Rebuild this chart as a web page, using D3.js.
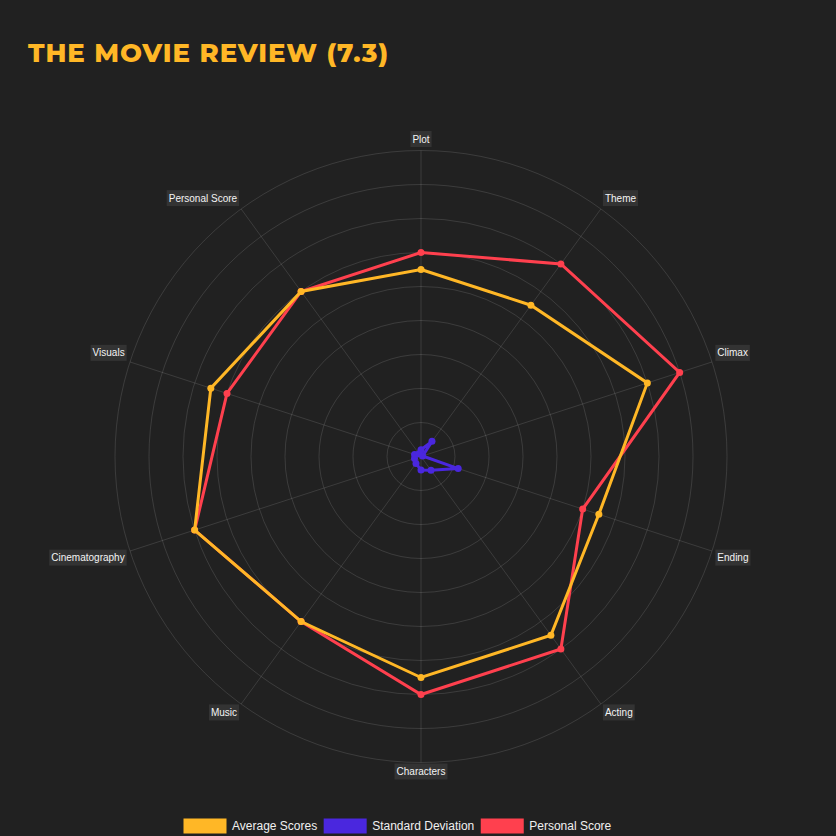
<!DOCTYPE html>
<html>
<head>
<meta charset="utf-8">
<script src="https://cdn.jsdelivr.net/npm/d3@7"></script>
<style>
  html, body { margin: 0; padding: 0; background: #212121; }
  svg { display: block; }
</style>
</head>
<body>
<svg id="chart" width="836" height="836"></svg>
<script>
const categories = ["Plot", "Theme", "Climax", "Ending", "Acting", "Characters", "Music", "Cinematography", "Visuals", "Personal Score"];
const averageScores = [5.5, 5.5, 7, 5.5, 6.5, 6.5, 6, 7, 6.5, 6];
const standardDeviation = [0.2, 0.55, 0.05, 1.15, 0.5, 0.4, 0.25, 0.2, 0.2, 0.1];
const personalScore = [6, 7, 8, 5, 7, 7, 6, 7, 6, 6];
const seriesNames = ["Average Scores", "Standard Deviation", "Personal Score"];
const seriesColors = ["#FFB726", "#4A27DE", "#FF404E"];
const gridTicks = [1, 2, 3, 4, 5, 6, 7, 8, 9];
const titleText = "THE MOVIE REVIEW (7.3)";

const svg = d3.select("#chart");
const W = 836, H = 836;
svg.append("rect").attr("width", W).attr("height", H).attr("fill", "#212121");

const cx = 421, cy = 456.5, R = 306;
const rScale = d3.scaleLinear().domain([0, 9]).range([0, R]);
const aScale = d3.scaleLinear().domain([0, categories.length]).range([0, 2 * Math.PI]);

const g = svg.append("g").attr("transform", `translate(${cx},${cy})`);

// grid circles
g.selectAll("circle.grid").data(gridTicks).join("circle")
  .attr("class", "grid")
  .attr("r", d => rScale(d))
  .attr("fill", "none")
  .attr("stroke", "rgba(255,255,255,0.12)")
  .attr("stroke-width", 1);

// spokes
g.selectAll("line.spoke").data(categories).join("line")
  .attr("class", "spoke")
  .attr("x1", 0).attr("y1", 0)
  .attr("x2", (d, i) => Math.sin(aScale(i)) * R)
  .attr("y2", (d, i) => -Math.cos(aScale(i)) * R)
  .attr("stroke", "rgba(255,255,255,0.12)")
  .attr("stroke-width", 1);

// point labels
const labelR = R + 3.5;
const lg = g.append("g").attr("class", "labels");
categories.forEach((c, i) => {
  const a = aScale(i);
  const deg = Math.round(a * 180 / Math.PI);
  const px = Math.sin(a) * labelR, py = -Math.cos(a) * labelR;
  const t = lg.append("text")
    .attr("font-family", "Liberation Sans, Arial, Helvetica, sans-serif")
    .attr("font-size", 10)
    .attr("fill", "#f4f4f4")
    .text(c);
  const w = t.node().getComputedTextLength();
  const bw = w + 4, bh = 16;
  let bx;
  if (deg === 0 || deg === 180) bx = px - bw / 2;
  else if (deg < 180) bx = px;
  else bx = px - bw;
  let by;
  if (deg === 90 || deg === 270) by = py - bh / 2;
  else if (deg > 270 || deg < 90) by = py - bh;
  else by = py - 2.5;
  lg.insert("rect", () => t.node())
    .attr("x", bx).attr("y", by).attr("width", bw).attr("height", bh)
    .attr("fill", "#333333");
  t.attr("x", bx + 2).attr("y", by + bh / 2).attr("dy", "0.35em");
});

// series (draw last dataset first so the first ends on top)
const allSeries = [averageScores, standardDeviation, personalScore];
const line = d3.lineRadial()
  .angle((d, i) => aScale(i))
  .radius(d => rScale(d))
  .curve(d3.curveLinearClosed);

[2, 1, 0].forEach(si => {
  const data = allSeries[si];
  const sg = g.append("g");
  sg.append("path")
    .datum(data)
    .attr("d", line)
    .attr("fill", "none")
    .attr("stroke", seriesColors[si])
    .attr("stroke-width", 3)
    .attr("stroke-linejoin", "miter");
  sg.selectAll("circle").data(data).join("circle")
    .attr("cx", (d, i) => Math.sin(aScale(i)) * rScale(d))
    .attr("cy", (d, i) => -Math.cos(aScale(i)) * rScale(d))
    .attr("r", 3.5)
    .attr("fill", seriesColors[si]);
});

// title
svg.append("text")
  .attr("x", 28).attr("y", 62)
  .attr("font-family", "Montserrat, 'Open Sans', 'DejaVu Sans', sans-serif")
  .attr("font-weight", 800)
  .attr("font-size", 26)
  .attr("fill", "#FFB726")
  .attr("textLength", 360)
  .attr("lengthAdjust", "spacing")
  .text(titleText);

// legend
const legend = svg.append("g");
let lx = 183.5;
const ly = 826;
seriesNames.forEach((n, i) => {
  legend.append("rect")
    .attr("x", lx).attr("y", ly - 7.5).attr("width", 43).attr("height", 15)
    .attr("fill", seriesColors[i]);
  const t = legend.append("text")
    .attr("x", lx + 48.5).attr("y", ly).attr("dy", "0.35em")
    .attr("font-family", "Liberation Sans, Arial, Helvetica, sans-serif")
    .attr("font-size", 12)
    .attr("fill", "#f0f0f0")
    .text(n);
  lx = lx + 48.5 + t.node().getComputedTextLength() + 6.5;
});
</script>
</body>
</html>
